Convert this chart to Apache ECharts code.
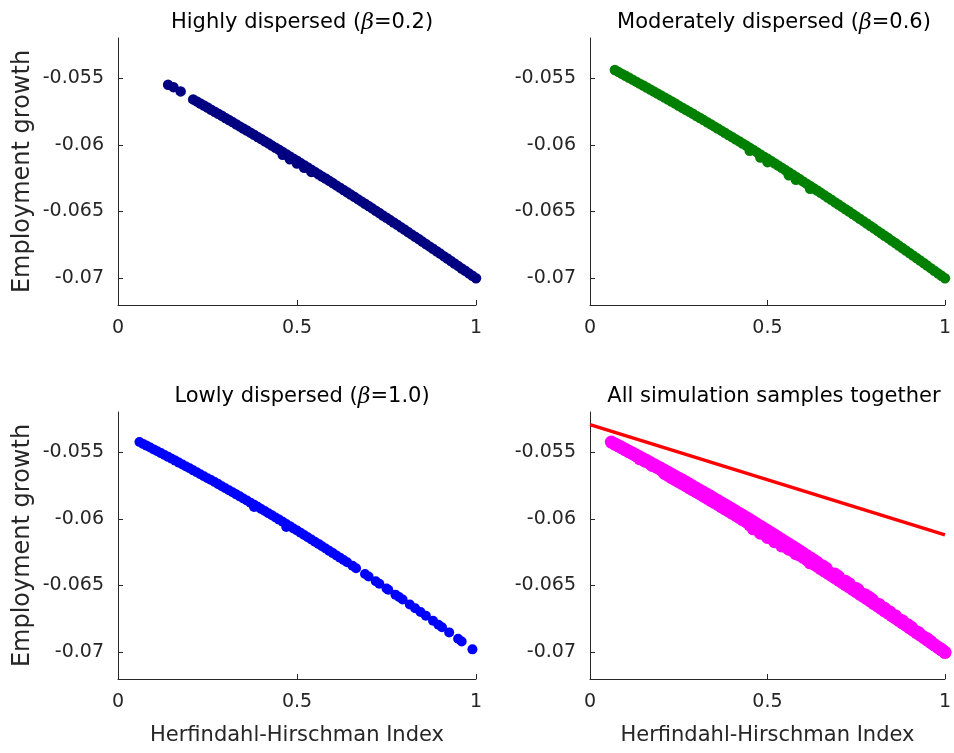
<!DOCTYPE html>
<html><head><meta charset="utf-8">
<script src="https://cdn.jsdelivr.net/npm/echarts@6/dist/echarts.min.js"></script>
<style>html,body{margin:0;padding:0;background:#fff}#c{width:954px;height:753px}</style>
</head><body><div id="c"></div>
<script>
// ---------- tick labels ----------
const xTicks = [0, 0.5, 1];
const yTicks = [-0.07, -0.065, -0.06, -0.055];
const yMin = -0.072, yMax = -0.052;

// ---------- titles / axis names ----------
const titlePre = ['Highly dispersed (', 'Moderately dispersed (', 'Lowly dispersed (', ''];
const titleBeta = ['0.2', '0.6', '1.0', ''];
const title4 = 'All simulation samples together';
const yName = 'Employment growth';
const xName = 'Herfindahl-Hirschman Index';

// ---------- Highly dispersed (beta=0.2) : navy ----------
const navyX = [0.14,0.155,0.175,
 0.21,0.22,0.23,0.24,0.25,0.26,0.27,0.28,0.29,0.30,0.31,0.32,0.33,0.34,0.35,0.36,0.37,0.38,0.39,0.40,
 0.41,0.42,0.43,0.44,0.45,0.46,0.47,0.48,0.49,0.50,0.51,0.52,0.53,0.54,0.55,0.56,0.57,0.58,0.59,0.60,
 0.61,0.62,0.63,0.64,0.65,0.66,0.67,0.68,0.69,0.70,0.71,0.72,0.73,0.74,0.75,0.76,0.77,0.78,0.79,0.80,
 0.81,0.82,0.83,0.84,0.85,0.86,0.87,0.88,0.89,0.90,0.91,0.92,0.93,0.94,0.95,0.96,0.97,0.98,0.99,1.00,
 0.46,0.48,0.50,0.52,0.54];
const navyY = [-0.05550,-0.05568,-0.05600,
 -0.05660,-0.05675,-0.05691,-0.05706,-0.05721,-0.05737,-0.05752,-0.05768,-0.05783,-0.05799,-0.05814,-0.05830,-0.05846,-0.05862,-0.05878,-0.05893,-0.05909,-0.05925,-0.05941,-0.05957,
 -0.05973,-0.05989,-0.06006,-0.06022,-0.06038,-0.06054,-0.06071,-0.06087,-0.06104,-0.06120,-0.06137,-0.06153,-0.06170,-0.06186,-0.06203,-0.06220,-0.06237,-0.06253,-0.06270,-0.06287,
 -0.06304,-0.06321,-0.06338,-0.06355,-0.06373,-0.06390,-0.06407,-0.06424,-0.06441,-0.06459,-0.06476,-0.06494,-0.06511,-0.06529,-0.06546,-0.06564,-0.06582,-0.06599,-0.06617,-0.06635,
 -0.06653,-0.06671,-0.06689,-0.06706,-0.06725,-0.06743,-0.06761,-0.06779,-0.06797,-0.06815,-0.06834,-0.06852,-0.06870,-0.06889,-0.06907,-0.06926,-0.06944,-0.06963,-0.06981,-0.07000,
 -0.06075,-0.06108,-0.06140,-0.06172,-0.06203];

// ---------- Moderately dispersed (beta=0.6) : green ----------
const greenX = [0.07,0.08,0.09,0.10,0.11,0.12,0.13,0.14,0.15,0.16,0.17,0.18,0.19,0.20,
 0.21,0.22,0.23,0.24,0.25,0.26,0.27,0.28,0.29,0.30,0.31,0.32,0.33,0.34,0.35,0.36,0.37,0.38,0.39,0.40,
 0.41,0.42,0.43,0.44,0.45,0.46,0.47,0.48,0.49,0.50,0.51,0.52,0.53,0.54,0.55,0.56,0.57,0.58,0.59,0.60,
 0.61,0.62,0.63,0.64,0.65,0.66,0.67,0.68,0.69,0.70,0.71,0.72,0.73,0.74,0.75,0.76,0.77,0.78,0.79,0.80,
 0.81,0.82,0.83,0.84,0.85,0.86,0.87,0.88,0.89,0.90,0.91,0.92,0.93,0.94,0.95,0.96,0.97,0.98,0.99,1.00,
 0.45,0.48,0.50,0.56,0.58,0.62];
const greenY = [-0.05440,-0.05454,-0.05469,-0.05483,-0.05498,-0.05512,-0.05527,-0.05542,-0.05556,-0.05571,-0.05586,-0.05601,-0.05616,-0.05631,
 -0.05646,-0.05661,-0.05676,-0.05691,-0.05707,-0.05722,-0.05737,-0.05753,-0.05768,-0.05784,-0.05799,-0.05815,-0.05831,-0.05846,-0.05862,-0.05878,-0.05894,-0.05910,-0.05926,-0.05942,
 -0.05958,-0.05974,-0.05990,-0.06006,-0.06023,-0.06039,-0.06055,-0.06072,-0.06089,-0.06105,-0.06122,-0.06138,-0.06155,-0.06172,-0.06189,-0.06206,-0.06222,-0.06239,-0.06256,-0.06274,
 -0.06291,-0.06308,-0.06325,-0.06342,-0.06360,-0.06377,-0.06395,-0.06412,-0.06430,-0.06447,-0.06465,-0.06483,-0.06500,-0.06518,-0.06536,-0.06554,-0.06572,-0.06590,-0.06608,-0.06626,
 -0.06645,-0.06663,-0.06681,-0.06699,-0.06718,-0.06736,-0.06755,-0.06773,-0.06792,-0.06811,-0.06829,-0.06848,-0.06867,-0.06886,-0.06905,-0.06924,-0.06943,-0.06962,-0.06981,-0.07000,
 -0.06045,-0.06095,-0.06130,-0.06228,-0.06262,-0.06330];

// ---------- Lowly dispersed (beta=1.0) : blue ----------
const blueX = [0.06,0.07,0.08,0.09,0.10,0.11,0.12,0.13,0.14,0.15,0.16,0.17,0.18,0.19,0.20,
 0.21,0.22,0.23,0.24,0.25,0.26,0.27,0.28,0.29,0.30,0.31,0.32,0.33,0.34,0.35,0.36,0.37,0.38,0.39,0.40,
 0.41,0.42,0.43,0.44,0.45,0.46,0.47,0.48,0.49,0.50,0.51,0.52,0.53,0.54,0.55,0.56,0.57,0.58,0.59,0.60,
 0.61,0.62,0.63,0.64,0.655,0.665,0.69,0.70,0.72,0.73,0.75,0.755,0.775,0.785,0.795,0.815,0.83,0.845,0.86,
 0.88,0.895,0.905,0.925,0.95,0.96,0.99,
 0.47,0.38];
const blueY = [-0.05425,-0.05439,-0.05452,-0.05466,-0.05480,-0.05494,-0.05508,-0.05522,-0.05536,-0.05550,-0.05564,-0.05579,-0.05593,-0.05608,-0.05622,
 -0.05637,-0.05651,-0.05666,-0.05681,-0.05696,-0.05710,-0.05725,-0.05740,-0.05756,-0.05771,-0.05786,-0.05801,-0.05817,-0.05832,-0.05848,-0.05863,-0.05879,-0.05894,-0.05910,-0.05926,
 -0.05942,-0.05958,-0.05974,-0.05990,-0.06006,-0.06022,-0.06039,-0.06055,-0.06072,-0.06088,-0.06105,-0.06121,-0.06138,-0.06155,-0.06172,-0.06188,-0.06205,-0.06222,-0.06240,-0.06257,
 -0.06274,-0.06291,-0.06309,-0.06326,-0.06352,-0.06370,-0.06414,-0.06432,-0.06468,-0.06486,-0.06522,-0.06531,-0.06568,-0.06586,-0.06605,-0.06642,-0.06670,-0.06698,-0.06726,
 -0.06764,-0.06793,-0.06812,-0.06851,-0.06899,-0.06919,-0.06978,
 -0.06062,-0.05912];

// ---------- fitted line (all samples) ----------
const fitX = [0, 1];
const fitY = [-0.05294, -0.06121];

// ---------- colors ----------
const cNavy = '#000080', cGreen = '#008000', cBlue = '#0000ff', cMag = '#ff00ff', cRed = '#ff0000';
const FONT = 'DejaVu Sans';
const AX = '#262626';

function pts(xs, ys) { return xs.map((x, i) => [x, ys[i]]); }

const grids = [
  {left: 118, top: 38, width: 358, height: 267},
  {left: 590, top: 38, width: 358, height: 267},
  {left: 118, top: 412, width: 358, height: 267},
  {left: 590, top: 412, width: 358, height: 267}
];

const xAxes = grids.map((g, i) => ({
  type: 'value', gridIndex: i, min: 0, max: 1, interval: 0.5,
  axisLine: {show: true, onZero: false, lineStyle: {color: AX, width: 1}},
  axisTick: {show: true, inside: true, length: 5, lineStyle: {color: AX}},
  axisLabel: {fontSize: 19, color: AX, fontFamily: FONT, margin: 14},
  splitLine: {show: false},
  name: i >= 2 ? xName : '', nameLocation: 'middle', nameGap: 46,
  nameTextStyle: {fontSize: 21, color: AX, fontFamily: FONT}
}));

const yAxes = grids.map((g, i) => ({
  type: 'value', gridIndex: i, min: yMin, max: yMax,
  axisLine: {show: true, onZero: false, lineStyle: {color: AX, width: 1}},
  axisTick: {show: true, inside: true, length: 5, lineStyle: {color: AX}, customValues: yTicks},
  axisLabel: {fontSize: 19, color: AX, fontFamily: FONT, margin: 14, customValues: yTicks,
    formatter: v => String(v)},
  splitLine: {show: false},
  name: (i % 2 === 0) ? yName : '', nameLocation: 'middle', nameGap: 83, nameRotate: 90,
  nameTextStyle: {fontSize: 24, color: AX, fontFamily: FONT}
}));

const richT = {
  a: {fontSize: 21, fontFamily: FONT, fontWeight: 'normal', color: '#000'},
  b: {fontSize: 22, fontFamily: 'DejaVu Serif', fontStyle: 'italic', fontWeight: 'normal', color: '#000'}
};
const titles = grids.map((g, i) => ({
  text: i === 3 ? '{a|' + title4 + '}' : '{a|' + titlePre[i] + '}{b|β}{a|=' + titleBeta[i] + ')}',
  left: g.left + g.width / 2, top: i < 2 ? 7 : 381, textAlign: 'center',
  textStyle: {fontWeight: 'normal', rich: richT}
}));

const mk = (name, gi, data, color, size) => ({
  name, type: 'scatter', xAxisIndex: gi, yAxisIndex: gi, data, symbol: 'circle',
  symbolSize: size, itemStyle: {color, opacity: 1}, silent: true
});

const allX = navyX.concat(greenX, blueX);
const allY = navyY.concat(greenY, blueY);

const option = {
  animation: false,
  backgroundColor: '#fff',
  title: titles,
  grid: grids,
  xAxis: xAxes,
  yAxis: yAxes,
  series: [
    mk('b02', 0, pts(navyX, navyY), cNavy, 10.5),
    mk('b06', 1, pts(greenX, greenY), cGreen, 10.5),
    mk('b10', 2, pts(blueX, blueY), cBlue, 10),
    mk('all', 3, pts(allX, allY), cMag, 13),
    {name: 'fit', type: 'line', xAxisIndex: 3, yAxisIndex: 3, data: pts(fitX, fitY),
     symbol: 'none', lineStyle: {color: cRed, width: 3.5}, silent: true}
  ]
};
echarts.init(document.getElementById('c')).setOption(option);
</script></body></html>
